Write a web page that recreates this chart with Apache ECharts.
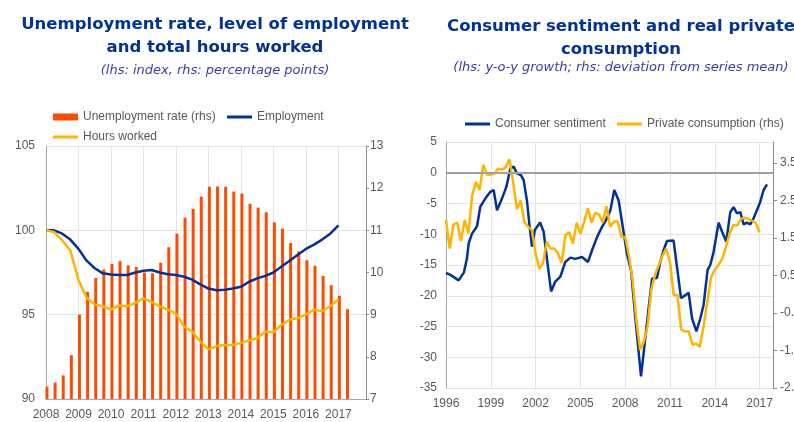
<!DOCTYPE html>
<html>
<head>
<meta charset="utf-8">
<title>Unemployment and consumer sentiment</title>
<script src="https://cdn.jsdelivr.net/npm/echarts@6/dist/echarts.min.js"></script>
<style>
  html, body { margin: 0; padding: 0; background: #fff; }
  #chart { width: 794px; height: 422px; }
</style>
</head>
<body>
<div id="chart"></div>
<script>
// ---- left panel: quarterly, from 2008Q1 ----
const labourStart = 2008;
const unemployment = [7.29, 7.39, 7.56, 8.04, 9.0, 9.54, 9.87, 10.07, 10.2, 10.27, 10.17, 10.13,
  10.0, 9.98, 10.23, 10.6, 10.92, 11.3, 11.51, 11.8, 12.03, 12.04, 12.03, 11.92, 11.87, 11.63,
  11.54, 11.43, 11.19, 11.04, 10.7, 10.5, 10.29, 10.16, 9.92, 9.7, 9.45, 9.13];
const employment = [100.0, 100.0, 99.8, 99.45, 98.9, 98.2, 97.75, 97.45, 97.38, 97.35, 97.35, 97.5,
  97.6, 97.65, 97.5, 97.4, 97.35, 97.25, 97.08, 96.8, 96.55, 96.45, 96.48, 96.55, 96.65, 96.95,
  97.15, 97.3, 97.5, 97.85, 98.2, 98.55, 98.9, 99.15, 99.45, 99.8, 100.3];
const hoursWorked = [100.0, 99.9, 99.4, 98.8, 97.06, 96.0, 95.6, 95.5, 95.3, 95.55, 95.5, 95.7,
  95.96, 95.76, 95.5, 95.3, 95.06, 94.3, 94.0, 93.4, 92.94, 93.14, 93.2, 93.2, 93.33, 93.47,
  93.6, 94.0, 93.96, 94.4, 94.7, 94.8, 95.0, 95.3, 95.2, 95.5, 95.9];

// ---- right panel ----
const sentimentDates = [1996.00, 1996.30, 1996.85, 1997.20, 1997.40, 1997.52, 1997.74, 1998.08,
  1998.30, 1998.63, 1998.97, 1999.19, 1999.42, 1999.75, 2000.04, 2000.31, 2000.53, 2000.75,
  2001.02, 2001.20, 2001.42, 2001.60, 2001.76, 2001.95, 2002.30, 2002.54, 2002.76, 2003.04,
  2003.32, 2003.66, 2003.99, 2004.33, 2004.66, 2005.11, 2005.51, 2005.78, 2006.11, 2006.45,
  2006.72, 2007.01, 2007.27, 2007.56, 2007.89, 2008.12, 2008.40, 2008.68, 2009.06, 2009.35,
  2009.57, 2009.80, 2010.13, 2010.35, 2010.57, 2010.80, 2011.24, 2011.47, 2011.74, 2012.03,
  2012.25, 2012.48, 2012.77, 2013.03, 2013.25, 2013.52, 2013.70, 2013.92, 2014.26, 2014.49,
  2014.77, 2015.04, 2015.26, 2015.49, 2015.71, 2015.93, 2016.16, 2016.38, 2016.60, 2016.87,
  2017.05, 2017.27, 2017.50];
const sentimentValues = [-16.3, -16.6, -17.5, -16.2, -14.0, -11.5, -9.9, -8.7,
  -5.5, -4.2, -3.1, -2.8, -6.1, -4.2, -2.3, 0.7, 1.0, -0.1,
  -0.4, -1.2, -4.5, -8.8, -12.0, -9.3, -8.1, -9.6, -14.0, -19.3,
  -17.7, -16.9, -14.5, -13.8, -14.0, -13.7, -14.5, -12.6, -10.5, -8.8,
  -7.7, -6.1, -2.8, -4.5, -9.6, -13.2, -16.0, -23.6, -33.1, -26.9,
  -22.0, -17.2, -17.1, -14.5, -12.6, -11.1, -11.0, -15.3, -20.4, -19.9,
  -19.5, -23.7, -25.8, -23.7, -21.5, -15.8, -15.0, -12.9, -8.1, -9.6,
  -11.2, -6.4, -5.6, -6.6, -6.4, -8.4, -8.1, -8.4, -7.4, -5.8,
  -4.7, -2.8, -1.9];

const consumptionStart = 1996;   // quarterly from 1996Q1
const consumption = [1.98, 1.22, 1.86, 1.91, 1.42, 1.98, 1.62, 2.63,
  2.99, 2.78, 3.45, 3.19, 3.19, 3.22, 3.35, 3.32, 3.39, 3.60, 2.99, 2.27,
  2.50, 1.93, 1.80, 1.71, 1.09, 0.68, 0.83, 1.40, 1.22, 1.22, 1.09, 0.83,
  1.58, 1.65, 1.35, 1.91, 1.62, 1.93, 2.29, 1.91, 2.17, 2.12, 1.91, 2.35,
  1.80, 1.94, 1.94, 1.53, 1.53, 1.03, 0.37, -0.70, -1.48, -1.27, -0.86, 0.12,
  0.53, 0.78, 1.03, 1.22, 0.86, -0.02, -0.02, -0.94, -0.99, -0.99, -1.34, -1.32,
  -1.40, -0.86, -0.20, 0.45, 0.65, 0.78, 0.94, 1.27, 1.63, 1.85, 1.83, 2.01,
  2.04, 2.01, 1.96, 1.90, 1.65];

const blue = '#003299';
const yellow = '#ffb400';
const orange = '#ff4b00';
const labelGrey = '#595959';
const gridGrey = '#e3e3e3';
const axisGrey = '#a6a6a6';

const quarterly = (start, arr, off) => arr.map((v, i) => [start + i * 0.25 + (off || 0), v]);

const chart = echarts.init(document.getElementById('chart'));

const titleStyle = { color: blue, fontSize: 16.5, fontWeight: 'bold', fontFamily: 'DejaVu Sans', lineHeight: 23 };
const subStyle = { color: '#3c3ca8', fontSize: 13, fontStyle: 'italic', fontWeight: 'normal', fontFamily: 'DejaVu Sans' };
const axisText = { color: labelGrey, fontSize: 12, fontFamily: 'Liberation Sans, Arial' };

// one legend block per entry so each can sit where the original puts it
function legendItem(name, left, top, isBar) {
  return {
    data: [name], left: left, top: top, padding: 0,
    icon: 'rect', itemWidth: 25, itemHeight: isBar ? 7 : 3,
    textStyle: axisText
  };
}

const option = {
  animation: false,
  title: [
    { text: 'Unemployment rate, level of employment\nand total hours worked', left: 210, top: 8, textAlign: 'center', textStyle: titleStyle },
    { text: '(lhs: index, rhs: percentage points)', left: 210, top: 59, textAlign: 'center', textStyle: subStyle },
    { text: 'Consumer sentiment and real private\nconsumption', left: 616, top: 10, textAlign: 'center', textStyle: titleStyle },
    { text: '(lhs: y-o-y growth; rhs: deviation from series mean)', left: 616, top: 56, textAlign: 'center', textStyle: subStyle }
  ],
  legend: [
    legendItem('Unemployment rate (rhs)', 53, 111, true),
    legendItem('Employment', 227, 111, false),
    legendItem('Hours worked', 53, 131, false),
    legendItem('Consumer sentiment', 465, 118, false),
    legendItem('Private consumption (rhs)', 617, 118, false)
  ],
  grid: [
    { left: 46, top: 146, width: 320, height: 253, outerBoundsMode: 'none' },
    { left: 446, top: 142, width: 327, height: 246, outerBoundsMode: 'none' }
  ],
  xAxis: [
    {
      gridIndex: 0, type: 'value', min: 2008, max: 2017.85, interval: 1,
      axisLine: { lineStyle: { color: axisGrey } },
      axisTick: { show: false },
      splitLine: { show: true, lineStyle: { color: gridGrey } },
      axisLabel: Object.assign({ margin: 10, showMaxLabel: false, formatter: v => v.toFixed(0) }, axisText)
    },
    {
      gridIndex: 1, type: 'value', min: 1996, max: 2017.9, interval: 3,
      axisLine: { lineStyle: { color: axisGrey } },
      axisTick: { show: false },
      splitLine: { show: true, lineStyle: { color: gridGrey } },
      axisLabel: Object.assign({ margin: 10, showMaxLabel: false, formatter: v => v.toFixed(0) }, axisText)
    }
  ],
  yAxis: [
    {
      gridIndex: 0, type: 'value', min: 90, max: 105, interval: 5,
      axisLine: { show: true, lineStyle: { color: axisGrey } },
      axisTick: { show: false },
      splitLine: { lineStyle: { color: gridGrey } },
      axisLabel: Object.assign({ margin: 11 }, axisText)
    },
    {
      gridIndex: 0, type: 'value', position: 'right', min: 7, max: 13, interval: 1,
      axisLine: { show: true, lineStyle: { color: '#8c8c8c' } },
      axisTick: { show: true, length: 3, lineStyle: { color: '#8c8c8c' } },
      splitLine: { show: false },
      axisLabel: Object.assign({ margin: 4 }, axisText)
    },
    {
      gridIndex: 1, type: 'value', min: -35, max: 5, interval: 5,
      axisLine: { show: true, lineStyle: { color: axisGrey } },
      axisTick: { show: false },
      splitLine: { lineStyle: { color: gridGrey } },
      axisLabel: Object.assign({ margin: 9 }, axisText)
    },
    {
      gridIndex: 1, type: 'value', position: 'right', min: -2.5, max: 4.06, interval: 1,
      axisLine: { show: true, lineStyle: { color: '#8c8c8c' } },
      axisTick: { show: true, length: 4, lineStyle: { color: '#8c8c8c' } },
      splitLine: { show: false },
      axisLabel: Object.assign({ margin: 7, showMaxLabel: false, formatter: v => v.toFixed(1) }, axisText)
    }
  ],
  series: [
    {
      name: 'Unemployment rate (rhs)', type: 'bar', xAxisIndex: 0, yAxisIndex: 1,
      barWidth: 3, itemStyle: { color: orange },
      data: quarterly(labourStart, unemployment, 0.03)
    },
    {
      name: 'Employment', type: 'line', xAxisIndex: 0, yAxisIndex: 0,
      symbol: 'none', lineStyle: { color: blue, width: 2.5 }, itemStyle: { color: blue },
      data: quarterly(labourStart, employment)
    },
    {
      name: 'Hours worked', type: 'line', xAxisIndex: 0, yAxisIndex: 0,
      symbol: 'none', lineStyle: { color: yellow, width: 2.5 }, itemStyle: { color: yellow },
      data: quarterly(labourStart, hoursWorked)
    },
    {
      name: 'Consumer sentiment', type: 'line', xAxisIndex: 1, yAxisIndex: 2,
      symbol: 'none', lineStyle: { color: blue, width: 2.5 }, itemStyle: { color: blue },
      data: sentimentDates.map((d, i) => [d, sentimentValues[i]]),
      markLine: {
        silent: true, symbol: 'none', label: { show: false },
        lineStyle: { color: '#a0a0a0', width: 2, type: 'solid' },
        data: [{ yAxis: 0 }]
      }
    },
    {
      name: 'Private consumption (rhs)', type: 'line', xAxisIndex: 1, yAxisIndex: 3,
      symbol: 'none', lineStyle: { color: yellow, width: 2.5 }, itemStyle: { color: yellow },
      data: quarterly(consumptionStart, consumption)
    }
  ]
};

chart.setOption(option);
</script>
</body>
</html>
